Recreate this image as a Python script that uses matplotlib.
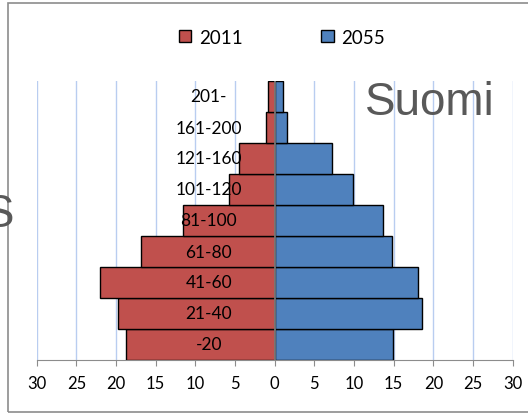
import matplotlib
matplotlib.use("Agg")
import matplotlib.pyplot as plt
from matplotlib.patches import Rectangle

# data (percent share per group)
groups = ["-20", "21-40", "41-60", "61-80", "81-100", "101-120", "121-160", "161-200", "201-"]
vals_2011 = [18.8, 19.7, 22.0, 16.8, 11.6, 5.7, 4.5, 1.1, 0.8]
vals_2055 = [14.9, 18.6, 18.1, 14.8, 13.7, 9.9, 7.25, 1.5, 1.0]
xticks = list(range(-30, 31, 5))

RED = "#c0504d"
BLUE = "#4f81bd"
GREY_TXT = "#595959"

fig = plt.figure(figsize=(5.28, 4.14), dpi=100)
ax = fig.add_axes([36.7/528, 1 - 361/414, 476/528, 279/414])
ax.patch.set_alpha(0)

y = list(range(len(groups)))
ax.barh(y, [-v for v in vals_2011], height=1.0, color=RED, edgecolor="black", linewidth=1.0, label="2011", zorder=3)
ax.barh(y, vals_2055, height=1.0, color=BLUE, edgecolor="black", linewidth=1.0, label="2055", zorder=3)
ax.axvline(0, color="#808080", lw=1.2, zorder=4)

ax.set_xlim(-30, 30)
ax.set_ylim(-0.5, len(groups) - 0.5)
ax.set_xticks(xticks)
ax.set_xticklabels([str(abs(t)) for t in xticks], fontsize=12, family="Lato")
ax.set_yticks([])
ax.xaxis.grid(True, color="#b9cdf0", lw=1.0, zorder=0)
ax.tick_params(axis="x", direction="out", length=4, color="#8c8c8c", pad=7)
for s in ["top", "right", "left"]:
    ax.spines[s].set_visible(False)
ax.spines["bottom"].set_color("#8c8c8c")

# category labels sit on the bars, left of the centre line
for yi, g in zip(y, groups):
    ax.text(-8.3, yi, g, ha="center", va="center", fontsize=12.5, family="Lato", color="black", zorder=5)

leg = fig.legend(loc="center", bbox_to_anchor=(282/528, 1 - 38/414), ncol=2, frameon=False,
                 prop={"family": "Lato", "size": 13.5}, columnspacing=4.2,
                 handlelength=0.65, handleheight=0.65, handletextpad=0.4)

fig.text(365/528, 1 - 115/414, "Suomi", fontsize=33, family="Liberation Sans", color=GREY_TXT,
         ha="left", va="baseline")
fig.text(14/528, 1 - 227/414, "S", fontsize=33, family="Liberation Sans", color=GREY_TXT,
         ha="right", va="baseline")

# chart border
fig.patches.append(Rectangle((7.5/528, 1/414), 1.2, 409.5/414, transform=fig.transFigure,
                             fill=False, edgecolor="#8c8c8c", lw=1.2))

fig.savefig("out.png", dpi=100)
